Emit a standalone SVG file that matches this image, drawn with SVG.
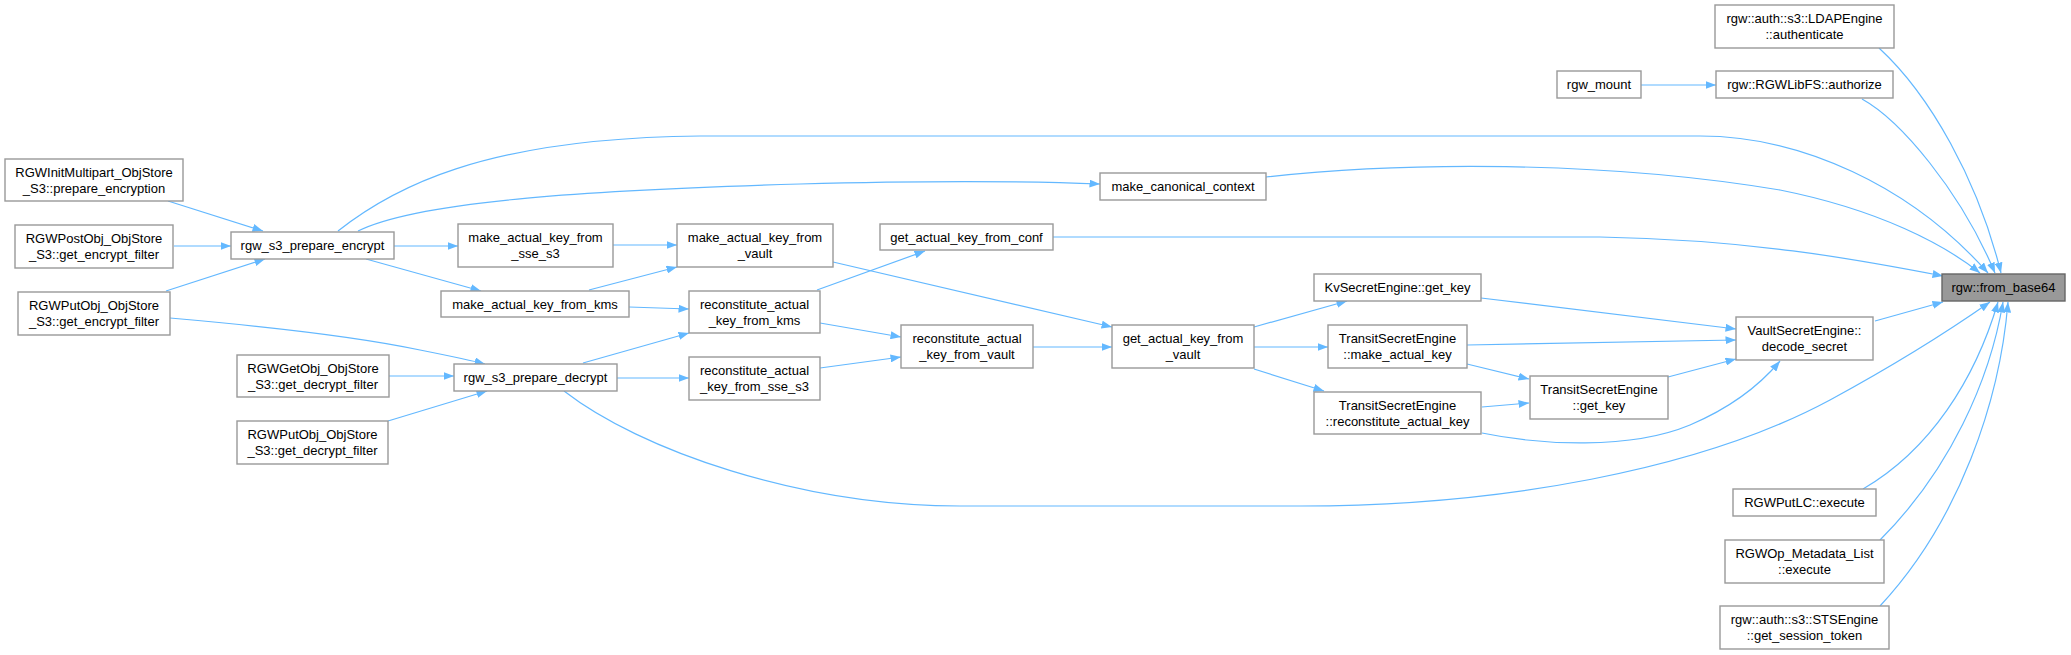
<svg xmlns="http://www.w3.org/2000/svg" width="2071" height="655" viewBox="0 0 2071 655">
<defs>
<marker id="ah" markerUnits="userSpaceOnUse" markerWidth="11" markerHeight="8" refX="10.5" refY="4" orient="auto">
<path d="M0,0 L10.5,4 L0,8 z" fill="#63b8ff"/>
</marker>
<style>
.n rect{fill:#ffffff;stroke:#999999;stroke-width:1.4}
.f rect{fill:#999999;stroke:#666666;stroke-width:1.4}
text{font-family:"Liberation Sans",Arial,sans-serif;font-size:13px;fill:#000000;text-anchor:middle}
#edges path{fill:none;stroke:#63b8ff;stroke-width:1.2;marker-end:url(#ah)}
</style>
</defs>
<rect width="2071" height="655" fill="#ffffff"/>
<g id="edges">
<path d="M1879,48 C1930,95 1978,180 2001,273"/>
<path d="M1641,85 L1716,85"/>
<path d="M1862,99 C1900,120 1960,190 1995,273"/>
<path d="M338,231 C390,190 480,138 700,136 L1700,136 C1800,136 1910,185 1988,273"/>
<path d="M358,231 C420,200 600,190 800,184 C950,180 1050,182 1100,184"/>
<path d="M1266,177 C1400,162 1600,160 1780,190 C1880,210 1945,245 1980,273"/>
<path d="M1053,237 L1600,237 C1750,240 1850,258 1943,276"/>
<path d="M1481,298 L1736,329"/>
<path d="M1875,321 L1943,302"/>
<path d="M1467,345 L1736,340"/>
<path d="M1467,364 L1529,379"/>
<path d="M1668,377 L1736,359"/>
<path d="M1482,407 L1529,403"/>
<path d="M1482,433 C1540,445 1630,450 1690,425 C1730,408 1760,385 1780,361"/>
<path d="M564,391 C640,450 800,506 960,506 L1300,506 C1500,506 1700,470 1830,400 C1900,362 1950,330 1990,302"/>
<path d="M1863,489 C1930,450 1975,380 1998,302"/>
<path d="M1880,540 C1950,470 1990,380 2003,302"/>
<path d="M1880,606 C1960,520 2000,400 2008,302"/>
<path d="M168,201 L263,231"/>
<path d="M174,246 L231,246"/>
<path d="M166,291 L265,259"/>
<path d="M170,318 C250,325 350,335 420,350 C450,356 470,360 485,364"/>
<path d="M394,246 L458,246"/>
<path d="M366,259 L481,291"/>
<path d="M613,245 L677,245"/>
<path d="M589,290 L677,267"/>
<path d="M629,307 L689,309"/>
<path d="M389,376 L454,376"/>
<path d="M388,421 L487,391"/>
<path d="M583,363 L689,333"/>
<path d="M617,378 L689,378"/>
<path d="M833,262 L1112,327"/>
<path d="M817,290 L925,251"/>
<path d="M820,323 L901,337"/>
<path d="M820,368 L901,357"/>
<path d="M1033,347 L1112,347"/>
<path d="M1254,327 L1347,301"/>
<path d="M1254,347 L1328,347"/>
<path d="M1254,369 L1324,391"/>
</g>
<g id="n_from_base64" class="f"><rect x="1942" y="274" width="123" height="27"/><text x="2003.5" y="292">rgw::from_base64</text></g>
<g id="n_ldap" class="n"><rect x="1715" y="5" width="179" height="43"/><text x="1804.5" y="23">rgw::auth::s3::LDAPEngine</text><text x="1804.5" y="39">::authenticate</text></g>
<g id="n_rgw_mount" class="n"><rect x="1557" y="71" width="84" height="27"/><text x="1599" y="89">rgw_mount</text></g>
<g id="n_authorize" class="n"><rect x="1716" y="71" width="177" height="27"/><text x="1804.5" y="89">rgw::RGWLibFS::authorize</text></g>
<g id="n_canonical" class="n"><rect x="1100" y="173" width="166" height="27"/><text x="1183" y="191">make_canonical_context</text></g>
<g id="n_init_mp" class="n"><rect x="5" y="159" width="178" height="42"/><text x="94" y="177">RGWInitMultipart_ObjStore</text><text x="94" y="193">_S3::prepare_encryption</text></g>
<g id="n_post_enc" class="n"><rect x="15" y="225" width="158" height="43"/><text x="94" y="243">RGWPostObj_ObjStore</text><text x="94" y="259">_S3::get_encrypt_filter</text></g>
<g id="n_put_enc" class="n"><rect x="18" y="292" width="152" height="43"/><text x="94" y="310">RGWPutObj_ObjStore</text><text x="94" y="326">_S3::get_encrypt_filter</text></g>
<g id="n_prep_enc" class="n"><rect x="231" y="232" width="163" height="27"/><text x="312.5" y="250">rgw_s3_prepare_encrypt</text></g>
<g id="n_get_dec" class="n"><rect x="237" y="355" width="152" height="42"/><text x="313" y="373">RGWGetObj_ObjStore</text><text x="313" y="389">_S3::get_decrypt_filter</text></g>
<g id="n_put_dec" class="n"><rect x="237" y="421" width="151" height="43"/><text x="312.5" y="439">RGWPutObj_ObjStore</text><text x="312.5" y="455">_S3::get_decrypt_filter</text></g>
<g id="n_prep_dec" class="n"><rect x="454" y="364" width="163" height="27"/><text x="535.5" y="382">rgw_s3_prepare_decrypt</text></g>
<g id="n_mk_sse" class="n"><rect x="458" y="224" width="155" height="43"/><text x="535.5" y="242">make_actual_key_from</text><text x="535.5" y="258">_sse_s3</text></g>
<g id="n_mk_kms" class="n"><rect x="441" y="291" width="188" height="26"/><text x="535" y="308.5">make_actual_key_from_kms</text></g>
<g id="n_mk_vault" class="n"><rect x="677" y="224" width="156" height="43"/><text x="755" y="242">make_actual_key_from</text><text x="755" y="258">_vault</text></g>
<g id="n_rc_kms" class="n"><rect x="689" y="291" width="131" height="42"/><text x="754.5" y="309">reconstitute_actual</text><text x="754.5" y="325">_key_from_kms</text></g>
<g id="n_rc_sse" class="n"><rect x="689" y="357" width="131" height="43"/><text x="754.5" y="375">reconstitute_actual</text><text x="754.5" y="391">_key_from_sse_s3</text></g>
<g id="n_conf" class="n"><rect x="880" y="224" width="173" height="26"/><text x="966.5" y="241.5">get_actual_key_from_conf</text></g>
<g id="n_rc_vault" class="n"><rect x="901" y="325" width="132" height="43"/><text x="967" y="343">reconstitute_actual</text><text x="967" y="359">_key_from_vault</text></g>
<g id="n_get_vault" class="n"><rect x="1112" y="325" width="142" height="43"/><text x="1183" y="343">get_actual_key_from</text><text x="1183" y="359">_vault</text></g>
<g id="n_kv" class="n"><rect x="1314" y="274" width="167" height="27"/><text x="1397.5" y="292">KvSecretEngine::get_key</text></g>
<g id="n_tr_make" class="n"><rect x="1328" y="325" width="139" height="43"/><text x="1397.5" y="343">TransitSecretEngine</text><text x="1397.5" y="359">::make_actual_key</text></g>
<g id="n_tr_rc" class="n"><rect x="1314" y="392" width="167" height="42"/><text x="1397.5" y="410">TransitSecretEngine</text><text x="1397.5" y="426">::reconstitute_actual_key</text></g>
<g id="n_tr_get" class="n"><rect x="1530" y="376" width="138" height="43"/><text x="1599" y="394">TransitSecretEngine</text><text x="1599" y="410">::get_key</text></g>
<g id="n_decode" class="n"><rect x="1736" y="317" width="137" height="43"/><text x="1804.5" y="335">VaultSecretEngine::</text><text x="1804.5" y="351">decode_secret</text></g>
<g id="n_putlc" class="n"><rect x="1733" y="489" width="143" height="27"/><text x="1804.5" y="507">RGWPutLC::execute</text></g>
<g id="n_meta" class="n"><rect x="1725" y="540" width="159" height="43"/><text x="1804.5" y="558">RGWOp_Metadata_List</text><text x="1804.5" y="574">::execute</text></g>
<g id="n_sts" class="n"><rect x="1720" y="606" width="169" height="43"/><text x="1804.5" y="624">rgw::auth::s3::STSEngine</text><text x="1804.5" y="640">::get_session_token</text></g>
</svg>
